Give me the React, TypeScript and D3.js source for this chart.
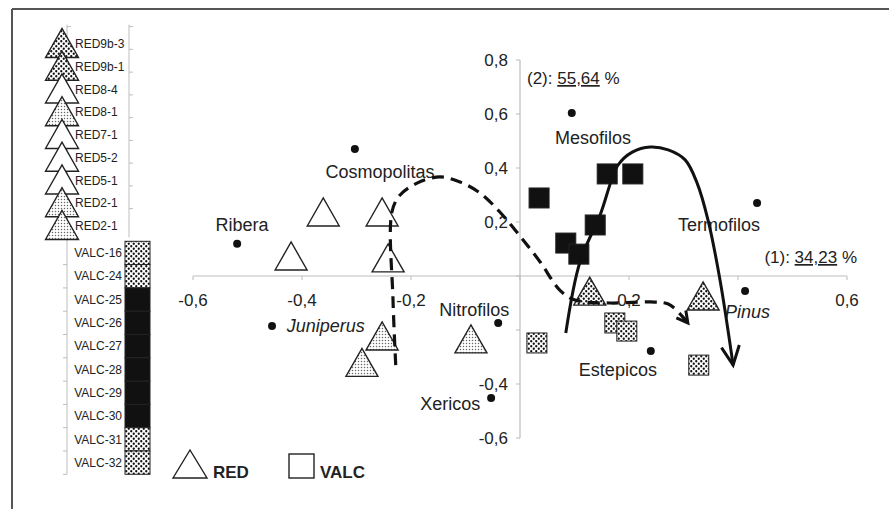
import * as d3 from "d3";

// ---- data ----
const xTicks = [-0.6, -0.4, -0.2, 0.2, 0.6];
const yTicks = [0.8, 0.6, 0.4, 0.2, -0.4, -0.6];

// left panel rows
const redRows = ["RED9b-3", "RED9b-1", "RED8-4", "RED8-1", "RED7-1", "RED5-2", "RED5-1", "RED2-1", "RED2-1"];
const redRowFill = ["dense", "dense", "open", "light", "open", "open", "open", "light", "light"];
const valcRows = ["VALC-16", "VALC-24", "VALC-25", "VALC-26", "VALC-27", "VALC-28", "VALC-29", "VALC-30", "VALC-31", "VALC-32"];
const valcRowFill = ["dense", "dense", "black", "black", "black", "black", "black", "black", "dense", "dense"];

// scatter: RED samples (triangles)
const redX = [-0.361, -0.253, -0.42, -0.242, -0.09, -0.253, -0.29, 0.128, 0.336];
const redY = [0.237, 0.237, 0.074, 0.067, -0.233, -0.222, -0.32, -0.056, -0.074];
const redType = ["open", "open", "open", "open", "light", "light", "light", "dense", "dense"];

// scatter: VALC samples (squares)
const valcX = [0.035, 0.16, 0.207, 0.138, 0.084, 0.108, 0.031, 0.174, 0.196, 0.328];
const valcY = [0.289, 0.378, 0.378, 0.189, 0.122, 0.081, -0.248, -0.174, -0.204, -0.33];
const valcType = ["black", "black", "black", "black", "black", "black", "dense", "dense", "dense", "dense"];

// ecological groups (dots + labels)
const groupNames = ["Cosmopolitas", "Ribera", "Juniperus", "Nitrofilos", "Xericos", "Mesofilos", "Termofilos", "Pinus", "Estepicos"];
const groupX = [-0.303, -0.519, -0.455, -0.04, -0.053, 0.095, 0.435, 0.413, 0.24];
const groupY = [0.47, 0.119, -0.185, -0.174, -0.452, 0.604, 0.27, -0.056, -0.278];
const labelX = [-0.257, -0.51, -0.428, -0.084, -0.183, 0.134, 0.29, 0.376, 0.108];
const labelY = [0.363, 0.167, -0.207, -0.148, -0.496, 0.489, 0.167, -0.156, -0.37];
const labelAnchor = ["middle", "middle", "start", "middle", "start", "middle", "start", "start", "start"];
const labelItalic = [false, false, true, false, false, false, false, true, false];

// trajectories
const dashX = [-0.228, -0.233, -0.235, -0.22, -0.189, -0.147, -0.11, -0.073, -0.037, 0, 0.037, 0.073, 0.101, 0.165, 0.239, 0.272, 0.294, 0.308];
const dashY = [-0.33, -0.089, 0.237, 0.3, 0.344, 0.367, 0.348, 0.307, 0.237, 0.148, 0.052, -0.052, -0.089, -0.1, -0.096, -0.104, -0.141, -0.174];
const solidX = [0.084, 0.11, 0.147, 0.18, 0.206, 0.239, 0.272, 0.303, 0.325, 0.345, 0.367, 0.391];
const solidY = [-0.211, 0.052, 0.226, 0.411, 0.459, 0.478, 0.467, 0.43, 0.344, 0.207, -0.015, -0.33];

const FONT = "'Liberation Sans', Arial, sans-serif";
const W = 889;
const H = 509;

const fillFor = (t: string) =>
  t === "black" ? "#111" : t === "dense" ? "url(#dense)" : t === "light" ? "url(#light)" : "#fff";

const tri = (cx: number, cy: number, w: number, h: number) =>
  `M${cx - w / 2},${cy + h / 2}L${cx},${cy - h / 2}L${cx + w / 2},${cy + h / 2}Z`;

const fmt = (v: number) => d3.format(".1f")(v).replace(".", ",").replace("−", "-");

export default function App() {
  const x = d3.scaleLinear().domain([-0.6, 0.6]).range([193, 847]);
  const y = d3.scaleLinear().domain([-0.6, 0.8]).range([438, 60]);

  const redBand = d3.scaleBand<number>().domain(d3.range(redRows.length)).range([32.6, 237.4]);
  const valcBand = d3.scaleBand<number>().domain(d3.range(valcRows.length)).range([241.3, 474.3]);

  const dashPath = d3
    .line<number>()
    .x((d) => x(dashX[d]))
    .y((d) => y(dashY[d]))
    .curve(d3.curveCatmullRom.alpha(0.5))(d3.range(dashX.length));
  const solidPath = d3
    .line<number>()
    .x((d) => x(solidX[d]))
    .y((d) => y(solidY[d]))
    .curve(d3.curveCatmullRom.alpha(0.5))(d3.range(solidX.length));

  const axisColor = "#bdbdbd";
  const textColor = "#222";

  return (
    <svg
      width={W}
      height={H}
      style={{ position: "absolute", left: 0, top: 0, background: "#fff" }}
      fontFamily={FONT}
    >
      <defs>
        <pattern id="dense" patternUnits="userSpaceOnUse" width="5" height="5">
          <rect width="5" height="5" fill="#fff" />
          <circle cx="1.25" cy="1.25" r="1.15" fill="#111" />
          <circle cx="3.75" cy="3.75" r="1.15" fill="#111" />
        </pattern>
        <pattern id="light" patternUnits="userSpaceOnUse" width="3" height="3">
          <rect width="3" height="3" fill="#fff" />
          <circle cx="1.5" cy="1.5" r="0.75" fill="#666" />
        </pattern>
        <marker id="arrowSolid" viewBox="-22 -12 26 24" markerWidth="26" markerHeight="24" refX="0" refY="0" orient="auto" markerUnits="userSpaceOnUse">
          <path d="M-19,-9L0,0L-19,9" fill="none" stroke="#111" strokeWidth="3" />
        </marker>
        <marker id="arrowDash" viewBox="-14 -9 18 18" markerWidth="18" markerHeight="18" refX="0" refY="0" orient="auto" markerUnits="userSpaceOnUse">
          <path d="M-11,-6L0,0L-11,6" fill="none" stroke="#111" strokeWidth="3" />
        </marker>
      </defs>

      {/* frame (right/bottom edges fall outside the picture) */}
      <line x1={12} y1={9} x2={W} y2={9} stroke="#555" strokeWidth={2} />
      <line x1={12} y1={9} x2={12} y2={H} stroke="#555" strokeWidth={2} />

      {/* left panel axes */}
      <line x1={67} x2={67} y1={redBand.range()[0] - 8} y2={valcBand.range()[1]} stroke={axisColor} />
      <line x1={129} x2={129} y1={redBand.range()[0] - 8} y2={redBand.range()[1]} stroke={axisColor} />
      {redRows.map((_, i) => (
        <g key={"rt" + i}>
          <line x1={129} x2={133} y1={(redBand(i) as number) - 6} y2={(redBand(i) as number) - 6} stroke={axisColor} />
          <line x1={67} x2={71} y1={(redBand(i) as number) - 6} y2={(redBand(i) as number) - 6} stroke={axisColor} />
        </g>
      ))}
      {valcRows.map((_, i) => (
        <line key={"vt" + i} x1={63} x2={67} y1={(valcBand(i) as number) + valcBand.bandwidth()} y2={(valcBand(i) as number) + valcBand.bandwidth()} stroke={axisColor} />
      ))}

      {/* left panel: RED triangles */}
      {redRows.map((name, i) => {
        const cy = (redBand(i) as number) + redBand.bandwidth() / 2;
        return (
          <g key={"rr" + i}>
            <path d={tri(62, cy - 1, 33, 29)} fill={fillFor(redRowFill[i])} stroke="#222" strokeWidth={1.4} />
            <text x={75} y={cy} dy="0.35em" fontSize={12} fill={textColor}>
              {name}
            </text>
          </g>
        );
      })}

      {/* left panel: VALC column */}
      {valcRows.map((name, i) => {
        const y0 = valcBand(i) as number;
        return (
          <g key={"vr" + i}>
            <rect x={125} y={y0} width={25} height={valcBand.bandwidth()} fill={fillFor(valcRowFill[i])} stroke="#222" strokeWidth={1} />
            <text x={122} y={y0 + valcBand.bandwidth() / 2} dy="0.35em" fontSize={12} textAnchor="end" fill={textColor}>
              {name}
            </text>
          </g>
        );
      })}

      {/* main axes */}
      <line x1={x(-0.6)} x2={x(0.6)} y1={y(0)} y2={y(0)} stroke={axisColor} strokeWidth={1.2} />
      <line x1={x(0)} x2={x(0)} y1={y(0.8)} y2={y(-0.6)} stroke={axisColor} strokeWidth={1.2} />
      {d3.range(-0.6, 0.61, 0.2).map((t) => (
        <line key={"xt" + t} x1={x(t)} x2={x(t)} y1={y(0)} y2={y(0) + 4} stroke={axisColor} />
      ))}
      {d3.range(-0.6, 0.81, 0.2).map((t) => (
        <line key={"yt" + t} x1={x(0) - 4} x2={x(0)} y1={y(t)} y2={y(t)} stroke={axisColor} />
      ))}
      {xTicks.map((t) => (
        <text key={"xl" + t} x={x(t)} y={y(0) + 30} textAnchor="middle" fontSize={17} fill={textColor}>
          {fmt(t)}
        </text>
      ))}
      {yTicks.map((t) => (
        <text key={"yl" + t} x={x(0) - 12} y={y(t)} dy="0.35em" textAnchor="end" fontSize={17} fill={textColor}>
          {fmt(t)}
        </text>
      ))}

      {/* axis inertia labels */}
      <text x={x(0) + 7} y={y(0.8) + 24} fontSize={17} fill={textColor}>
        (2):{" "}
        <tspan style={{ textDecoration: "underline" }}>55,64</tspan> %
      </text>
      <text x={x(0.6) + 10} y={y(0) - 13} fontSize={17} textAnchor="end" fill={textColor}>
        (1):{" "}
        <tspan style={{ textDecoration: "underline" }}>34,23</tspan> %
      </text>

      {/* ecological group dots + labels */}
      {groupNames.map((n, i) => (
        <g key={"g" + i}>
          <circle cx={x(groupX[i])} cy={y(groupY[i])} r={4} fill="#111" />
          <text
            x={x(labelX[i])}
            y={y(labelY[i])}
            textAnchor={labelAnchor[i]}
            fontSize={18}
            fontStyle={labelItalic[i] ? "italic" : "normal"}
            fill={textColor}
          >
            {n}
          </text>
        </g>
      ))}

      {/* RED triangles */}
      {redX.map((v, i) => (
        <path key={"rt" + i} d={tri(x(v), y(redY[i]), 32, 28)} fill={fillFor(redType[i])} stroke="#222" strokeWidth={1.4} />
      ))}

      {/* VALC squares */}
      {valcX.map((v, i) => (
        <rect key={"vs" + i} x={x(v) - 10} y={y(valcY[i]) - 10} width={20} height={20} fill={fillFor(valcType[i])} stroke="#222" strokeWidth={1} />
      ))}

      {/* trajectories */}
      <path d={dashPath ?? ""} fill="none" stroke="#111" strokeWidth={3.2} strokeDasharray="12 7" markerEnd="url(#arrowDash)" />
      <path d={solidPath ?? ""} fill="none" stroke="#111" strokeWidth={3} markerEnd="url(#arrowSolid)" />

      {/* legend */}
      <path d={tri(190, 464, 34, 28)} fill="#fff" stroke="#222" strokeWidth={1.4} />
      <text x={213} y={478} fontSize={17} fontWeight="bold" fill={textColor}>
        RED
      </text>
      <rect x={289} y={454} width={25} height={24} fill="#fff" stroke="#222" strokeWidth={1.4} />
      <text x={320} y={478} fontSize={17} fontWeight="bold" fill={textColor}>
        VALC
      </text>
    </svg>
  );
}
